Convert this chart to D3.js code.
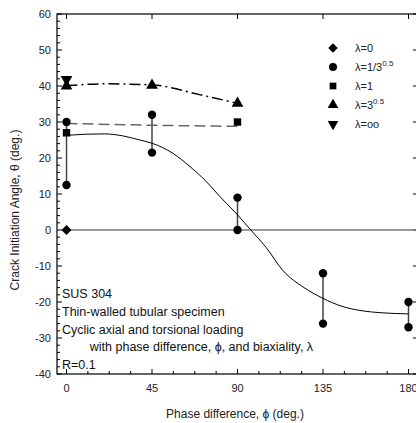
<!DOCTYPE html>
<html><head><meta charset="utf-8">
<script src="https://cdn.jsdelivr.net/npm/d3@7"></script>
<style>body{margin:0;background:#fff;} svg{display:block;font-family:Arial,"Liberation Sans",sans-serif;}</style>
</head><body><svg id="c" width="416" height="423"></svg>
<script>
const xTicks = [0, 45, 90, 135, 180];
const yTicks = [-40, -30, -20, -10, 0, 10, 20, 30, 40, 50, 60];
// lambda = 0 (diamond)
const lam0 = [{x:0, y:0}];
const lam0Line = [{x:0, y:0}, {x:185, y:0}];
// lambda = 1/3^0.5 (circle): pairs of scatter at each phase
const lamA = [
  {x:0, lo:12.5, hi:30}, {x:45, lo:21.5, hi:32}, {x:90, lo:0, hi:9},
  {x:135, lo:-26, hi:-12}, {x:180, lo:-27, hi:-20}
];
const lamAFit = [
  {x:0,y:26.3},{x:10,y:26.6},{x:20,y:26.7},{x:30,y:26.1},{x:38.6,y:25},{x:45,y:24.1},
  {x:56,y:21.3},{x:65,y:17.6},{x:73.7,y:13.4},{x:80.7,y:9.3},{x:87.5,y:5.6},{x:90,y:4.2},
  {x:97,y:0},{x:105,y:-4.8},{x:113.8,y:-11.2},{x:125,y:-16},{x:135,y:-19},{x:145,y:-21.2},
  {x:155,y:-22.4},{x:166,y:-23},{x:180,y:-23.3}
];
// lambda = 1 (square)
const lam1 = [{x:0, y:27}, {x:90, y:30}];
const lam1Fit = [{x:0,y:29.6},{x:45,y:29.1},{x:90,y:28.8}];
// lambda = 3^0.5 (triangle up)
const lam3 = [{x:0, y:40}, {x:45, y:40.2}, {x:90, y:35.2}];
const lam3Fit = [{x:0,y:40.1},{x:20,y:40.6},{x:45,y:40.3},{x:70,y:37.6},{x:90,y:35.2}];
// lambda = oo (triangle down)
const lamInf = [{x:0, y:41.8}];

const legendItems = [
  {sym:"diamond", label:["λ=0"]},
  {sym:d3.symbolCircle, label:["λ=1/3","0.5"]},
  {sym:d3.symbolSquare, label:["λ=1"]},
  {sym:d3.symbolTriangle, label:["λ=3","0.5"]},
  {sym:"down", label:["λ=oo"]}
];
const notes = ["SUS 304","Thin-walled tubular specimen","Cyclic axial and torsional loading",
  "        with phase difference, ϕ, and biaxiality, λ","R=0.1"];

const svg = d3.select("#c");
const L=57, T=14, R=418, B=374;
const x = d3.scaleLinear().domain([-5,185]).range([L,R]);
const y = d3.scaleLinear().domain([-40,60]).range([B,T]);

// frame
svg.append("rect").attr("x",L).attr("y",T).attr("width",R-L).attr("height",B-T)
  .attr("fill","none").attr("stroke","#000").attr("stroke-width",1.2);

// ticks
const minorX = d3.range(0,181,11.25);
const minorY = d3.range(-40,61,2);
const tk = svg.append("g").attr("stroke","#000").attr("stroke-width",1);
minorX.forEach(v=>{
  const maj = xTicks.includes(v);
  tk.append("line").attr("x1",x(v)).attr("x2",x(v)).attr("y1",B).attr("y2",B-(maj?5:3));
  if(maj) tk.append("line").attr("x1",x(v)).attr("x2",x(v)).attr("y1",T).attr("y2",T+5);
});
minorY.forEach(v=>{
  const maj = yTicks.includes(v);
  tk.append("line").attr("x1",L).attr("x2",L+(maj?5:3)).attr("y1",y(v)).attr("y2",y(v));
  if(maj) tk.append("line").attr("x1",R).attr("x2",R-5).attr("y1",y(v)).attr("y2",y(v));
});
// tick labels
svg.append("g").selectAll("text").data(xTicks).join("text")
  .attr("x",d=>x(d)).attr("y",B+18).attr("text-anchor","middle")
  .attr("font-size",11).attr("fill","#222").text(d=>d);
svg.append("g").selectAll("text").data(yTicks).join("text")
  .attr("x",L-6).attr("y",d=>y(d)+4).attr("text-anchor","end")
  .attr("font-size",11).attr("fill","#222").text(d=>d);
// axis titles
svg.append("text").attr("x",235).attr("y",418).attr("text-anchor","middle")
  .attr("font-size",12).attr("fill","#222").text("Phase difference, ϕ (deg.)");
svg.append("text").attr("transform","translate(19,210) rotate(-90)").attr("text-anchor","middle")
  .attr("font-size",12).attr("fill","#222").text("Crack Initiation Angle, θ (deg.)");

const line = d3.line().x(d=>x(d.x)).y(d=>y(d.y));
// zero line
svg.append("path").attr("d",line(lam0Line)).attr("fill","none").attr("stroke","#777").attr("stroke-width",1.5);
// vertical ranges
svg.append("g").selectAll("line").data(lamA).join("line")
  .attr("x1",d=>x(d.x)).attr("x2",d=>x(d.x)).attr("y1",d=>y(d.lo)).attr("y2",d=>y(d.hi))
  .attr("stroke","#444").attr("stroke-width",1.5);
// fits
svg.append("path").attr("d",line.curve(d3.curveMonotoneX)(lamAFit)).attr("fill","none").attr("stroke","#000").attr("stroke-width",1);
svg.append("path").attr("d",d3.line().x(d=>x(d.x)).y(d=>y(d.y)).curve(d3.curveMonotoneX)(lam1Fit))
  .attr("fill","none").attr("stroke","#666").attr("stroke-width",1.5).attr("stroke-dasharray","11,5");
svg.append("path").attr("d",d3.line().x(d=>x(d.x)).y(d=>y(d.y)).curve(d3.curveMonotoneX)(lam3Fit))
  .attr("fill","none").attr("stroke","#000").attr("stroke-width",1.5).attr("stroke-dasharray","11,4,2,4");

const sym = (t,s)=>d3.symbol().type(t).size(s)();
// markers
svg.append("g").selectAll("path").data(lam0).join("path")
  .attr("transform",d=>`translate(${x(d.x)},${y(d.y)}) rotate(45)`).attr("d",sym(d3.symbolSquare,50));
const circ = lamA.flatMap(d=>[{x:d.x,y:d.lo},{x:d.x,y:d.hi}]);
svg.append("g").selectAll("circle").data(circ).join("circle")
  .attr("cx",d=>x(d.x)).attr("cy",d=>y(d.y)).attr("r",4.2);
svg.append("g").selectAll("path").data(lam1).join("path")
  .attr("transform",d=>`translate(${x(d.x)},${y(d.y)})`).attr("d",sym(d3.symbolSquare,55));
svg.append("g").selectAll("path").data(lam3).join("path")
  .attr("transform",d=>`translate(${x(d.x)},${y(d.y)})`).attr("d",sym(d3.symbolTriangle,60));
svg.append("g").selectAll("path").data(lamInf).join("path")
  .attr("transform",d=>`translate(${x(d.x)},${y(d.y)}) rotate(180)`).attr("d",sym(d3.symbolTriangle,60));

// legend
const lg = svg.append("g");
legendItems.forEach((it,i)=>{
  const yy = 48 + i*19;
  const g = lg.append("g").attr("transform",`translate(333,${yy})`);
  if(it.sym==="down") g.append("path").attr("transform","rotate(180)").attr("d",sym(d3.symbolTriangle,50));
  else if(it.sym==="diamond") g.append("path").attr("transform","rotate(45)").attr("d",sym(d3.symbolSquare,45));
  else g.append("path").attr("d",sym(it.sym, it.sym===d3.symbolSquare?45:50));
  const t = lg.append("text").attr("x",355).attr("y",yy+4).attr("font-size",11).attr("fill","#222");
  t.append("tspan").text(it.label[0]);
  if(it.label[1]) t.append("tspan").attr("dy",-5).attr("font-size",8).text(it.label[1]);
});

// annotation
svg.append("g").selectAll("text").data(notes).join("text")
  .attr("x",62).attr("y",(d,i)=>298+i*17.8).attr("font-size",12.5).attr("fill","#111")
  .attr("xml:space","preserve").style("white-space","pre").text(d=>d);
</script></body></html>
